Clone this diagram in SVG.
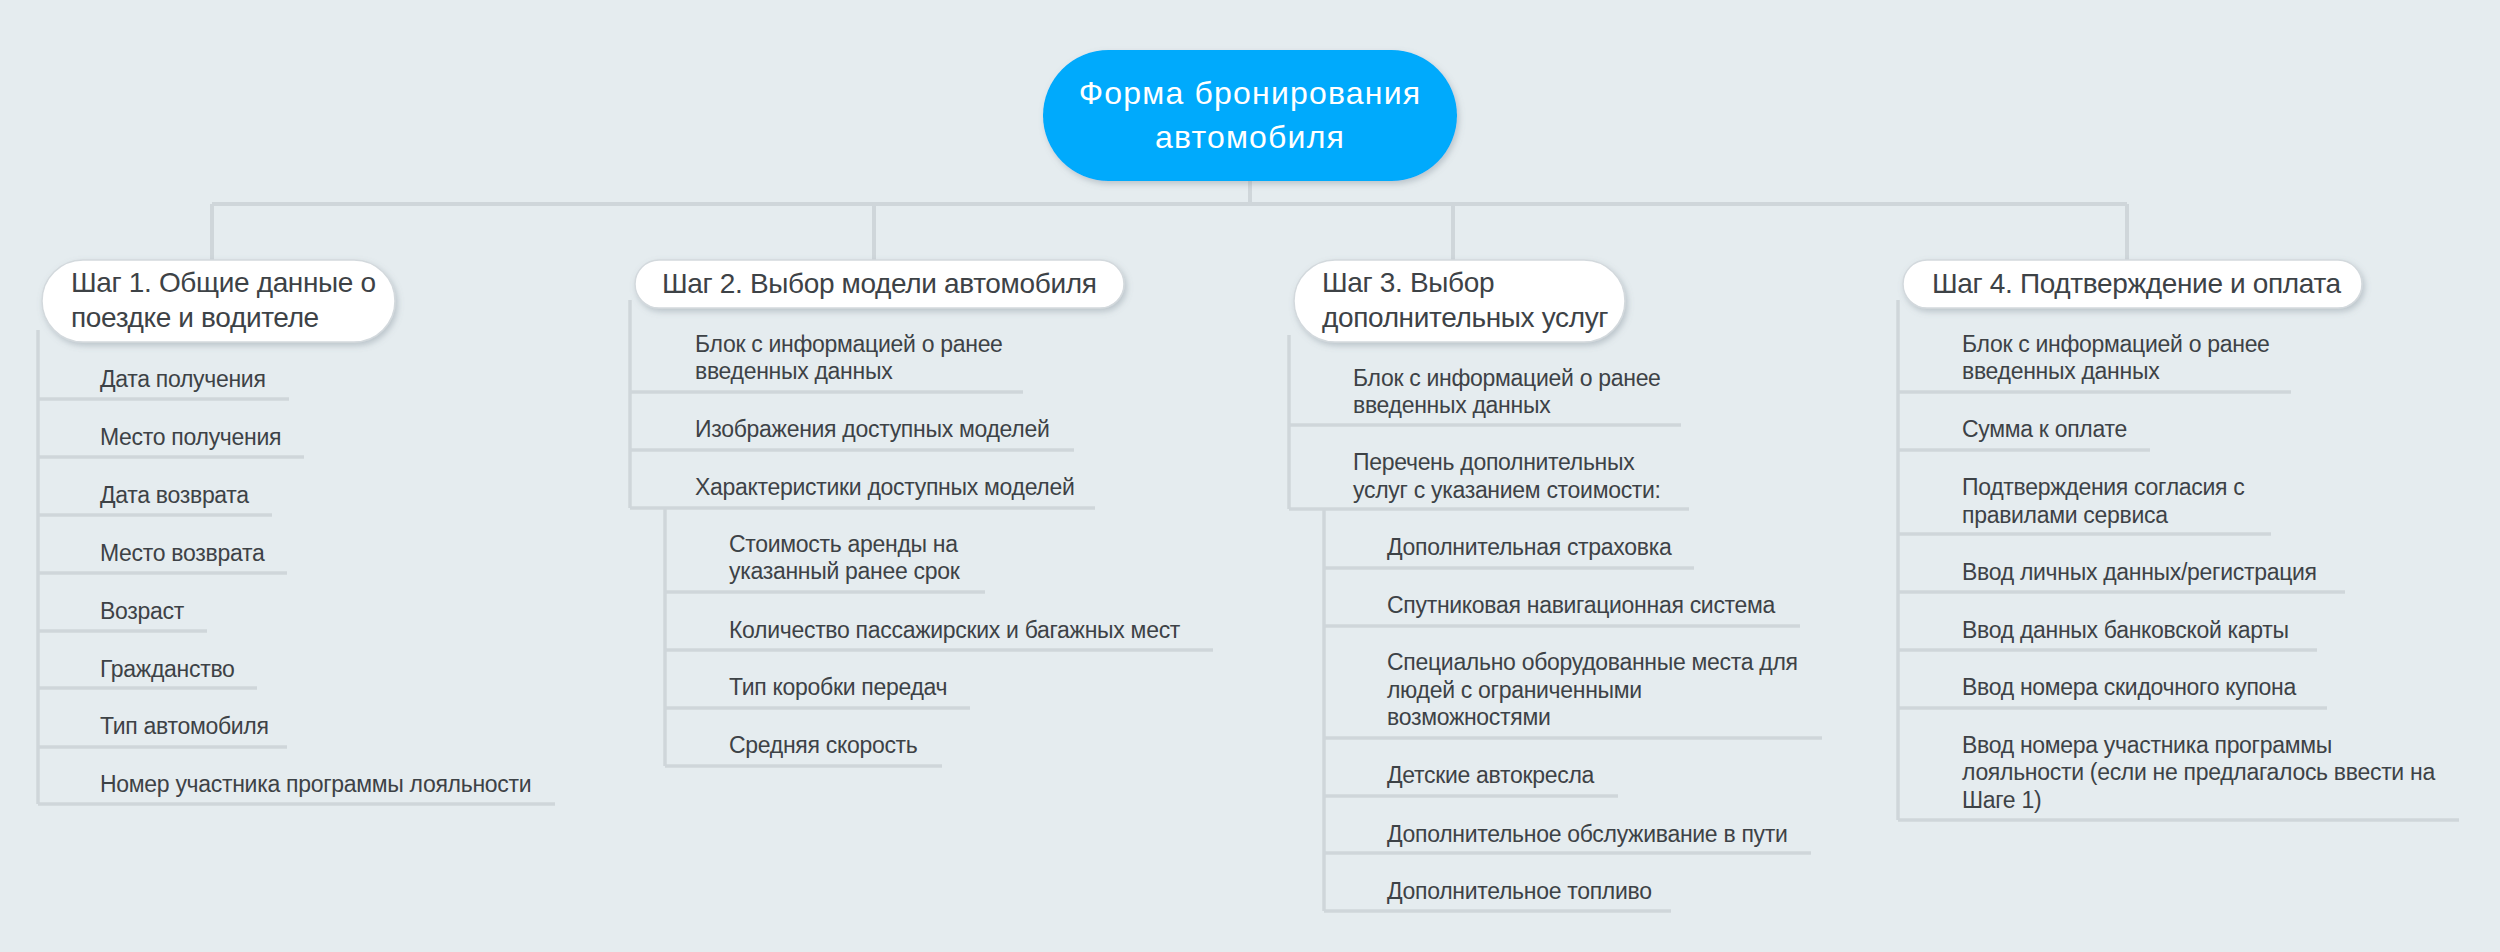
<svg xmlns="http://www.w3.org/2000/svg" width="2500" height="952" viewBox="0 0 2500 952">
<style>
.conn{stroke:#cfd6da;stroke-width:4;fill:none}
.sub{stroke-width:3.5}
.t{font-family:"Liberation Sans",Arial,sans-serif;fill:#3d4246}
.c{font-size:23px;letter-spacing:-0.3px}
.s{font-size:28px;letter-spacing:-0.35px}
.r{font-size:32px;letter-spacing:1.2px;fill:#ffffff;text-anchor:middle}
.pill{fill:#ffffff;stroke:#d3d9dd;stroke-width:1.5}
</style>
<defs>
<filter id="sh" x="-10%" y="-30%" width="120%" height="170%">
<feDropShadow dx="2" dy="3" stdDeviation="3" flood-color="#6b7a85" flood-opacity="0.35"/>
</filter>
</defs>
<rect width="2500" height="952" fill="#e5ecef"/>
<g id="connectors" class="conn">
<path d="M1250 181V204M212 204H2127M212 204V260M874 204V260M1453 204V260M2127 204V260"/>
<g class="sub">
<path d="M38 330V804M38 399H289M38 457H304M38 515H272M38 573H287M38 631H207M38 688H257M38 747H287M38 804H555"/>
<path d="M630 300V508M630 392H1023M630 450H1074M630 508H1095"/>
<path d="M665 508V766M665 592H985M665 650H1213M665 708H970M665 766H942"/>
<path d="M1289 335V509M1289 425H1681M1289 509H1689"/>
<path d="M1324 509V911M1324 568H1694M1324 626H1800M1324 738H1822M1324 796H1618M1324 853H1811M1324 911H1671"/>
<path d="M1898 300V820M1898 392H2291M1898 450H2150M1898 534H2271M1898 592H2345M1898 650H2317M1898 708H2327M1898 820H2459"/>
</g>
</g>
<g id="root">
<rect x="1043" y="50" width="414" height="131" rx="65.5" fill="#00aafc" filter="url(#sh)"/>
<text class="t r" x="1250" y="104">Форма бронирования</text>
<text class="t r" x="1250" y="148">автомобиля</text>
</g>
<g id="step1">
<rect class="pill" x="42" y="260" width="353" height="82" rx="41" filter="url(#sh)"/>
<text class="t s" x="71" y="292">Шаг 1. Общие данные о</text>
<text class="t s" x="71" y="327">поездке и водителе</text>
</g>
<g id="step1-items" class="t c">
<text x="100" y="387">Дата получения</text>
<text x="100" y="445">Место получения</text>
<text x="100" y="503">Дата возврата</text>
<text x="100" y="561">Место возврата</text>
<text x="100" y="619">Возраст</text>
<text x="100" y="677">Гражданство</text>
<text x="100" y="734">Тип автомобиля</text>
<text x="100" y="792">Номер участника программы лояльности</text>
</g>
<g id="step2">
<rect class="pill" x="635" y="260" width="489" height="48" rx="24" filter="url(#sh)"/>
<text class="t s" x="662" y="293">Шаг 2. Выбор модели автомобиля</text>
</g>
<g id="step2-items" class="t c">
<text x="695" y="352">Блок с информацией о ранее</text>
<text x="695" y="379">введенных данных</text>
<text x="695" y="437">Изображения доступных моделей</text>
<text x="695" y="495">Характеристики доступных моделей</text>
<text x="729" y="552">Стоимость аренды на</text>
<text x="729" y="579">указанный ранее срок</text>
<text x="729" y="638">Количество пассажирских и багажных мест</text>
<text x="729" y="695">Тип коробки передач</text>
<text x="729" y="753">Средняя скорость</text>
</g>
<g id="step3">
<rect class="pill" x="1294" y="260" width="331" height="82" rx="41" filter="url(#sh)"/>
<text class="t s" x="1322" y="292">Шаг 3. Выбор</text>
<text class="t s" x="1322" y="327">дополнительных услуг</text>
</g>
<g id="step3-items" class="t c">
<text x="1353" y="386">Блок с информацией о ранее</text>
<text x="1353" y="413">введенных данных</text>
<text x="1353" y="470">Перечень дополнительных</text>
<text x="1353" y="498">услуг с указанием стоимости:</text>
<text x="1387" y="555">Дополнительная страховка</text>
<text x="1387" y="613">Спутниковая навигационная система</text>
<text x="1387" y="670">Специально оборудованные места для</text>
<text x="1387" y="698">людей с ограниченными</text>
<text x="1387" y="725">возможностями</text>
<text x="1387" y="783">Детские автокресла</text>
<text x="1387" y="842">Дополнительное обслуживание в пути</text>
<text x="1387" y="899">Дополнительное топливо</text>
</g>
<g id="step4">
<rect class="pill" x="1903" y="260" width="459" height="48" rx="24" filter="url(#sh)"/>
<text class="t s" x="1932" y="293">Шаг 4. Подтверждение и оплата</text>
</g>
<g id="step4-items" class="t c">
<text x="1962" y="352">Блок с информацией о ранее</text>
<text x="1962" y="379">введенных данных</text>
<text x="1962" y="437">Сумма к оплате</text>
<text x="1962" y="495">Подтверждения согласия с</text>
<text x="1962" y="523">правилами сервиса</text>
<text x="1962" y="580">Ввод личных данных/регистрация</text>
<text x="1962" y="638">Ввод данных банковской карты</text>
<text x="1962" y="695">Ввод номера скидочного купона</text>
<text x="1962" y="753">Ввод номера участника программы</text>
<text x="1962" y="780">лояльности (если не предлагалось ввести на</text>
<text x="1962" y="808">Шаге 1)</text>
</g>
</svg>
